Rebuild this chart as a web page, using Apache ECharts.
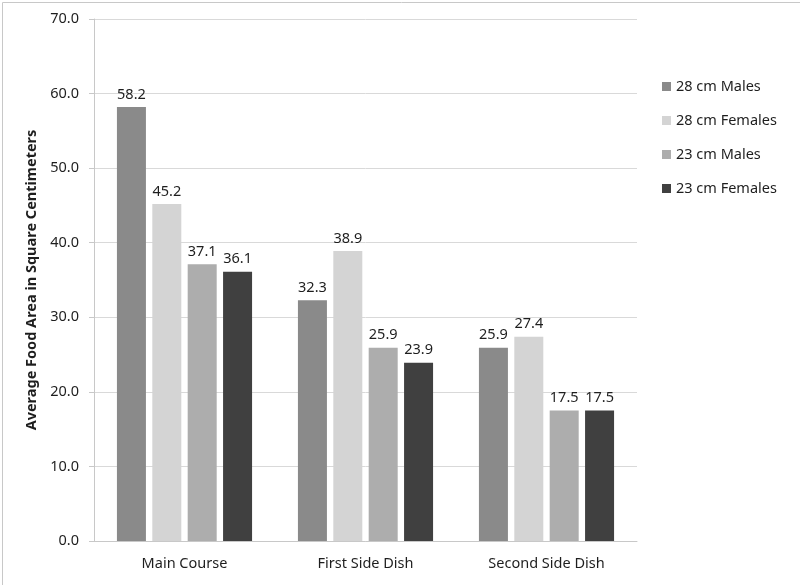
<!DOCTYPE html>
<html>
<head>
<meta charset="utf-8">
<script src="https://cdn.jsdelivr.net/npm/echarts@6/dist/echarts.min.js"></script>
<style>
  html, body { margin: 0; padding: 0; background: #fff; }
  #chart { width: 800px; height: 585px; }
</style>
</head>
<body>
<div id="chart"></div>
<script>
const categories = ['Main Course', 'First Side Dish', 'Second Side Dish'];
const seriesNames = ['28 cm Males', '28 cm Females', '23 cm Males', '23 cm Females'];
const males28 = [58.2, 32.3, 25.9];
const females28 = [45.2, 38.9, 27.4];
const males23 = [37.1, 25.9, 17.5];
const females23 = [36.1, 23.9, 17.5];
const yTicks = [0, 10, 20, 30, 40, 50, 60, 70];
const yAxisTitle = 'Average Food Area in Square Centimeters';

const seriesData = [males28, females28, males23, females23];
const colors = ['#8a8a8a', '#d4d4d4', '#adadad', '#404040'];
const FONT = 'Noto Sans';
const FS = 14.5;

const chart = echarts.init(document.getElementById('chart'));
chart.setOption({
  animation: false,
  textStyle: { fontFamily: FONT },
  graphic: [{
    type: 'rect', left: 0, top: 0,
    shape: { x: 0.5, y: 0.5, width: 798, height: 583 },
    style: { fill: 'none', stroke: '#c8c8c8', lineWidth: 1 }
  }],
  grid: { left: 94, right: 163, top: 19, bottom: 44 },
  legend: {
    orient: 'vertical',
    left: 657,
    top: 74,
    itemWidth: 9,
    itemHeight: 9,
    itemGap: 19,
    icon: 'rect',
    textStyle: { fontFamily: FONT, fontSize: FS, color: '#1e1e1e' },
    data: seriesNames
  },
  xAxis: {
    type: 'category',
    data: categories,
    axisLine: { lineStyle: { color: '#c8c8c8' } },
    axisTick: { show: false },
    axisLabel: { fontFamily: FONT, fontSize: FS, color: '#1e1e1e', margin: 15 }
  },
  yAxis: {
    type: 'value',
    min: yTicks[0],
    max: yTicks[yTicks.length - 1],
    interval: 10,
    name: yAxisTitle,
    nameLocation: 'middle',
    nameGap: 53,
    nameTextStyle: { fontFamily: FONT, fontSize: FS, fontWeight: 'bold', color: '#1e1e1e' },
    axisLine: { show: true, lineStyle: { color: '#c8c8c8' } },
    axisTick: { show: true, length: 5, lineStyle: { color: '#c8c8c8' } },
    splitLine: { lineStyle: { color: '#d9d9d9' } },
    axisLabel: {
      fontFamily: FONT, fontSize: FS, color: '#1e1e1e', margin: 15,
      formatter: v => v.toFixed(1)
    }
  },
  series: seriesNames.map((name, i) => ({
    name,
    type: 'bar',
    data: seriesData[i],
    barWidth: 29,
    barGap: '22%',
    itemStyle: { color: colors[i] },
    label: {
      show: true,
      position: 'top',
      distance: 5,
      fontFamily: FONT,
      fontSize: FS,
      color: '#1e1e1e',
      formatter: p => p.value.toFixed(1)
    }
  }))
});
</script>
</body>
</html>
